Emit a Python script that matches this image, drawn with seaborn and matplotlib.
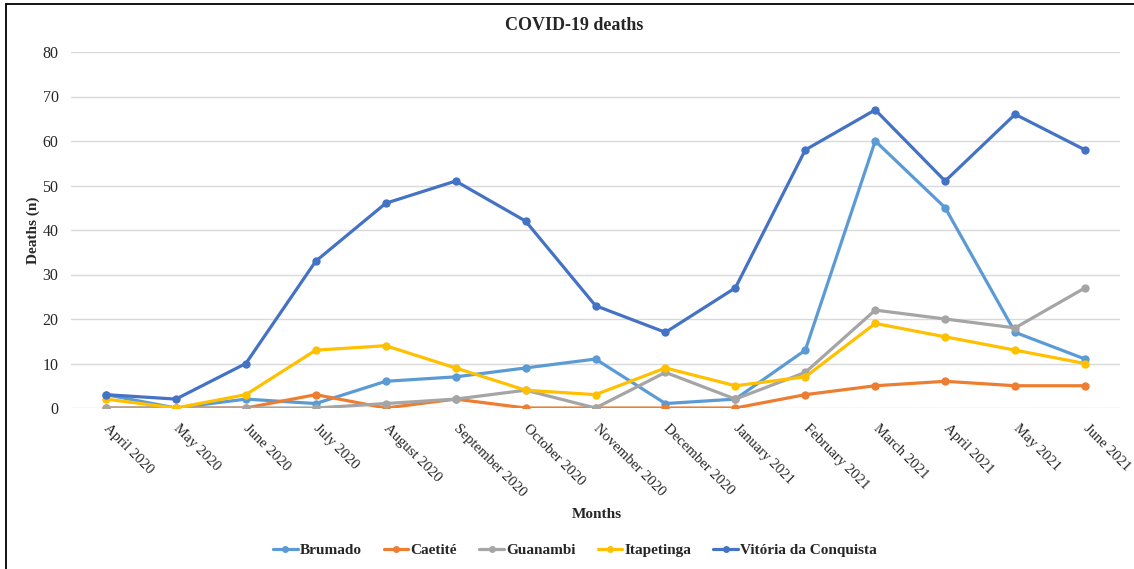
import matplotlib
matplotlib.use("Agg")
import matplotlib.pyplot as plt
from matplotlib.lines import Line2D
import seaborn as sns
import pandas as pd

months = ["April 2020", "May 2020", "June 2020", "July 2020", "August 2020",
          "September 2020", "October 2020", "November 2020", "December 2020",
          "January 2021", "February 2021", "March 2021", "April 2021",
          "May 2021", "June 2021"]

brumado = [3, 0, 2, 1, 6, 7, 9, 11, 1, 2, 13, 60, 45, 17, 11]
caetite = [0, 0, 0, 3, 0, 2, 0, 0, 0, 0, 3, 5, 6, 5, 5]
guanambi = [0, 0, 0, 0, 1, 2, 4, 0, 8, 2, 8, 22, 20, 18, 27]
itapetinga = [2, 0, 3, 13, 14, 9, 4, 3, 9, 5, 7, 19, 16, 13, 10]
vitoria = [3, 2, 10, 33, 46, 51, 42, 23, 17, 27, 58, 67, 51, 66, 58]

cities = ["Brumado", "Caetité", "Guanambi", "Itapetinga", "Vitória da Conquista"]
series = [brumado, caetite, guanambi, itapetinga, vitoria]
colors = ["#5B9BD5", "#ED7D31", "#A5A5A5", "#FFC000", "#4472C4"]

rows = []
for city, vals in zip(cities, series):
    for i, v in enumerate(vals):
        rows.append({"month": i, "city": city, "deaths": v})
df = pd.DataFrame(rows)

sns.set_theme(style="white")
plt.rcParams["font.family"] = ["Liberation Serif", "DejaVu Serif"]

fig = plt.figure(figsize=(11.34, 5.69), dpi=100)
ax = fig.add_axes([71 / 1134, 1 - 408 / 569, (1120 - 71) / 1134, (408 - 52) / 569])

sns.lineplot(data=df, x="month", y="deaths", hue="city", hue_order=cities,
             palette=colors, marker="o", markersize=6, markeredgewidth=0,
             linewidth=2.3, sort=False, legend=False, ax=ax)

ax.set_xlim(-0.5, len(months) - 0.5)
ax.set_ylim(0, 80)
ax.set_yticks(range(0, 81, 10))
ax.yaxis.grid(True, color="#D9D9D9", linewidth=1)
ax.set_axisbelow(True)
for s in ax.spines.values():
    s.set_visible(False)

ax.set_xticks(range(len(months)))
ax.set_xticklabels(months, rotation=-45, ha="left", va="center",
                   rotation_mode="anchor", fontsize=10.6, color="#262626")
ax.tick_params(axis="x", length=0, pad=13)
ax.tick_params(axis="y", length=0, pad=9, labelsize=11.5, labelcolor="#262626")

ax.set_xlabel("")
ax.set_ylabel("")
fig.text(33 / 1134, 1 - 230 / 569, "Deaths (n)", rotation=90, ha="center",
         va="center", fontsize=11, fontweight="bold")
fig.text(597 / 1134, 1 - 515 / 569, "Months", ha="center", va="center",
         fontsize=11, fontweight="bold")
fig.text(574 / 1134, 1 - 26 / 569, "COVID-19 deaths", ha="center", va="center",
         fontsize=13, fontweight="bold")

handles = [Line2D([0], [0], color=c, lw=2.3, marker="o", markersize=5,
                  markeredgewidth=0) for c in colors]
leg = fig.legend(handles, cities, loc="center", ncol=5,
                 bbox_to_anchor=(575 / 1134, 1 - 550 / 569), frameon=False,
                 handlelength=1.6, handletextpad=0.15, columnspacing=1.45,
                 prop={"weight": "bold", "size": 11})

# frame edge along the left and top of the figure
fig.add_artist(Line2D([6 / 1134, 6 / 1134], [0, 1 - 4 / 569],
                      transform=fig.transFigure, color="black", lw=1.3))
fig.add_artist(Line2D([6 / 1134, 1], [1 - 4 / 569, 1 - 4 / 569],
                      transform=fig.transFigure, color="black", lw=1.3))

fig.savefig("out.png", dpi=100, facecolor="white")
